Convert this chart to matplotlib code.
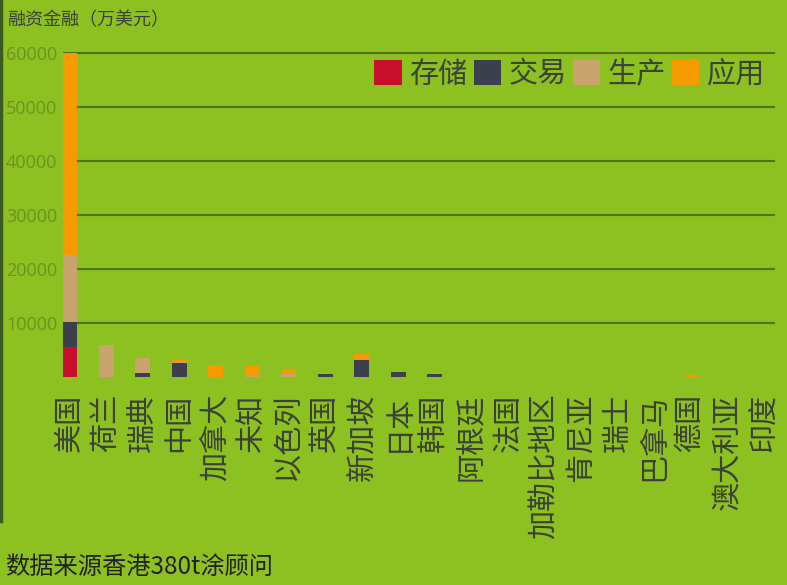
import matplotlib
matplotlib.use("Agg")
import matplotlib.pyplot as plt
from matplotlib.patches import Patch
from matplotlib.lines import Line2D

plt.rcParams['font.family'] = ['Noto Sans CJK SC', 'DejaVu Sans']

# 数据（万美元）
countries = ["美国", "荷兰", "瑞典", "中国", "加拿大", "未知", "以色列", "英国", "新加坡",
             "日本", "韩国", "阿根廷", "法国", "加勒比地区", "肯尼亚", "瑞士", "巴拿马",
             "德国", "澳大利亚", "印度"]
storage = [5500, 0, 0, 0, 0, 0, 0, 0, 0, 0, 0, 0, 0, 0, 0, 0, 0, 0, 0, 0]
trading = [4600, 0, 700, 2600, 0, 0, 0, 500, 3100, 900, 500, 0, 0, 0, 0, 0, 0, 0, 0, 0]
production = [12400, 5900, 2800, 200, 0, 100, 500, 0, 0, 0, 0, 0, 0, 0, 0, 0, 0, 0, 0, 0]
application = [37400, 0, 0, 300, 2200, 1900, 700, 0, 1200, 0, 0, 0, 0, 0, 0, 0, 0, 300, 0, 0]
series_names = ["存储", "交易", "生产", "应用"]
yticks = [10000, 20000, 30000, 40000, 50000, 60000]

bg = '#8dc021'
colors = ['#c8102e', '#3b3f4e', '#c9a46e', '#f79a00']
grid_c = '#4f7316'
tick_c = '#6a9420'
text_c = '#3b4236'

fig = plt.figure(figsize=(7.87, 5.85), dpi=100, facecolor=bg)
ax = fig.add_axes([0.080, 0.3556, 0.905, 0.5556])
ax.set_facecolor(bg)

x = list(range(len(countries)))
bottom = [0] * len(countries)
for vals, col in zip([storage, trading, production, application], colors):
    ax.bar(x, vals, width=0.41, bottom=bottom, color=col, zorder=3)
    bottom = [b + v for b, v in zip(bottom, vals)]

ax.set_xlim(-0.19, 19.32)
ax.set_ylim(0, 60150)
ax.set_yticks(yticks)
ax.set_yticklabels([str(t) for t in yticks], family='Open Sans', fontsize=13, color=tick_c)
ax.yaxis.grid(True, color=grid_c, linewidth=1.5, zorder=1)
ax.set_axisbelow(True)
ax.tick_params(axis='y', length=0, pad=4)
ax.tick_params(axis='x', length=0, pad=12)
for s in ax.spines.values():
    s.set_visible(False)

ax.set_xticks(x)
ax.set_xticklabels(countries, fontsize=21, color=text_c, rotation=90, va='top', ha='center')

handles = [Patch(facecolor=c, edgecolor='none') for c in colors]
ax.legend(handles, series_names, loc='upper right', bbox_to_anchor=(1.002, 1.012), ncol=4,
          frameon=False, fontsize=21, handlelength=0.95, handleheight=0.95,
          handletextpad=0.25, columnspacing=0.2, borderaxespad=0,
          labelcolor=text_c)

fig.text(0.009, 0.966, "融资金融（万美元）", fontsize=13, color=text_c, va='center')
fig.text(0.006, 0.031, "数据来源香港380t涂顾问", fontsize=17.5, color='#222222', va='center')

fig.add_artist(Line2D([0.0015, 0.0015], [1.0, 0.11], color='#3d5a20', linewidth=2.5,
                      transform=fig.transFigure))

fig.savefig("out.png", dpi=100, facecolor=bg)
